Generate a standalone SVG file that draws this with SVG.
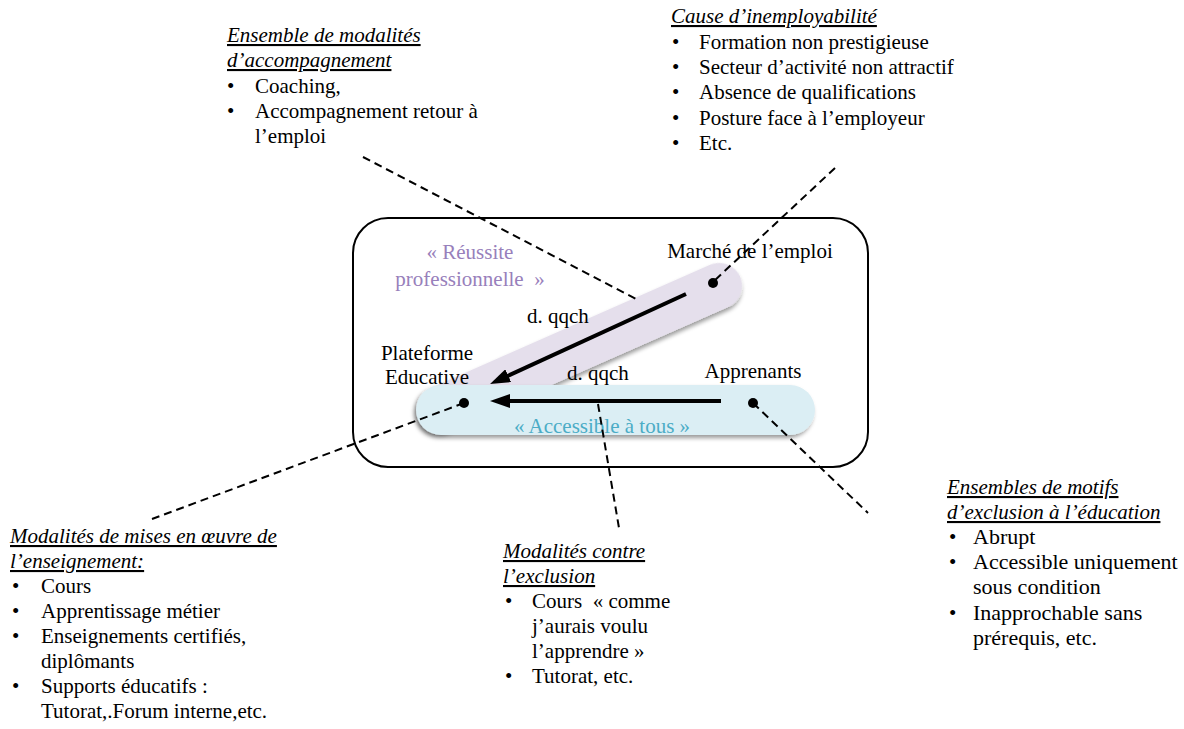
<svg xmlns="http://www.w3.org/2000/svg" width="1184" height="729" viewBox="0 0 1184 729">
<style>
text{font-family:"Liberation Serif","Times New Roman",serif;font-size:21px;fill:#000}
.h{font-style:italic;text-decoration:underline}
.c{text-anchor:middle}
.pre{white-space:pre}
.big{font-size:22px}
.purple{fill:#9880bb}
.blue{fill:#4bacc6}
.dash{stroke:#000;stroke-width:2;stroke-dasharray:8 5;fill:none}
.arrow{stroke:#000;stroke-width:4;fill:none;marker-end:url(#ah)}
.dot{fill:#000}
</style>
<defs>
<marker id="ah" markerUnits="userSpaceOnUse" viewBox="0 0 20 14" markerWidth="20" markerHeight="14" refX="2" refY="7" orient="auto">
<path d="M0,0 L20,7 L0,14 z" fill="#000"/>
</marker>
<filter id="sh" x="-10%" y="-30%" width="120%" height="170%">
<feDropShadow dx="-2" dy="3" stdDeviation="2" flood-color="#000" flood-opacity="0.4"/>
</filter>
</defs>
<rect width="1184" height="729" fill="#fff"/>

<g id="frame">
<rect x="353" y="218" width="515" height="249" rx="35" fill="none" stroke="#000" stroke-width="2"/>
</g>

<g id="reussite-band">
<rect transform="translate(440,409) rotate(-23.8)" x="-23" y="-23" width="351" height="46" rx="23" fill="#e5dfec" filter="url(#sh)"/>
<text class="c purple" x="470" y="259">« Réussite</text>
<text class="c purple pre" x="470" y="286">professionnelle  »</text>
</g>

<g id="accessible-band">
<rect x="416" y="385" width="399" height="50" rx="25" fill="#dbeef4" filter="url(#sh)"/>
<text class="c blue" x="602" y="433">« Accessible à tous »</text>
</g>

<g id="plateforme">
<text class="c" x="427" y="360">Plateforme</text>
<text class="c" x="427" y="384">Educative</text>
</g>

<g id="marche">
<text class="c" x="750" y="258">Marché de l’emploi</text>
</g>

<g id="apprenants">
<text class="c" x="753" y="378">Apprenants</text>
</g>

<g id="edge-labels">
<text x="527" y="323">d. qqch</text>
<text x="567" y="380">d. qqch</text>
</g>

<g id="note-accompagnement">
<text class="h" x="227" y="42">Ensemble de modalités</text>
<text class="h" x="227" y="67">d’accompagnement</text>
<text x="227" y="93">•</text><text x="255" y="93">Coaching,</text>
<text x="227" y="118">•</text><text x="255" y="118">Accompagnement retour à</text>
<text x="255" y="143">l’emploi</text>
</g>

<g id="note-inemployabilite">
<text class="h" x="671" y="23">Cause d’inemployabilité</text>
<text x="672" y="49">•</text><text x="699" y="49">Formation non prestigieuse</text>
<text x="672" y="74">•</text><text x="699" y="74">Secteur d’activité non attractif</text>
<text x="672" y="99">•</text><text x="699" y="99">Absence de qualifications</text>
<text x="672" y="125">•</text><text x="699" y="125">Posture face à l’employeur</text>
<text x="672" y="150">•</text><text x="699" y="150">Etc.</text>
</g>

<g id="note-enseignement">
<text class="h" x="10" y="543">Modalités de mises en œuvre de</text>
<text class="h" x="10" y="568">l’enseignement:</text>
<text x="12" y="593">•</text><text x="41" y="593">Cours</text>
<text x="12" y="618">•</text><text x="41" y="618">Apprentissage métier</text>
<text x="12" y="643">•</text><text x="41" y="643">Enseignements certifiés,</text>
<text x="41" y="668">diplômants</text>
<text x="12" y="693">•</text><text x="41" y="693">Supports éducatifs :</text>
<text x="41" y="718">Tutorat,.Forum interne,etc.</text>
</g>

<g id="note-exclusion">
<text class="h" x="503" y="558">Modalités contre</text>
<text class="h" x="503" y="583">l’exclusion</text>
<text x="505" y="608">•</text><text class="pre" x="532" y="608">Cours  « comme</text>
<text x="532" y="633">j’aurais voulu</text>
<text x="532" y="658">l’apprendre »</text>
<text x="505" y="683">•</text><text x="532" y="683">Tutorat, etc.</text>
</g>

<g id="note-motifs">
<text class="h" x="947" y="494">Ensembles de motifs</text>
<text class="h" x="947" y="519">d’exclusion à l’éducation</text>
<text x="949" y="544">•</text><text class="big" x="973" y="544">Abrupt</text>
<text x="949" y="569">•</text><text class="big" x="973" y="569">Accessible uniquement</text>
<text class="big" x="973" y="594">sous condition</text>
<text x="949" y="620">•</text><text class="big" x="973" y="620">Inapprochable sans</text>
<text class="big" x="973" y="645">prérequis, etc.</text>
</g>

<g id="connectors">
<line class="arrow" x1="686" y1="294" x2="506.4" y2="376.5"/>
<line class="arrow" x1="721" y1="401" x2="508" y2="401"/>
<line class="dash" x1="363" y1="157" x2="636" y2="299"/>
<line class="dash" x1="835" y1="168" x2="714" y2="281"/>
<line class="dash" x1="464" y1="403" x2="152" y2="519"/>
<line class="dash" x1="598" y1="404" x2="619" y2="528"/>
<line class="dash" x1="753" y1="403" x2="868" y2="513"/>
</g>

<g id="dots">
<circle class="dot" cx="464" cy="403" r="5"/>
<circle class="dot" cx="713" cy="283" r="5"/>
<circle class="dot" cx="753" cy="403" r="5"/>
</g>
</svg>
